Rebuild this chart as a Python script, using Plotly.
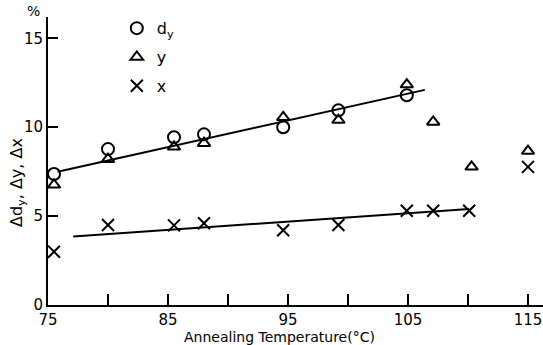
import plotly.graph_objects as go

# Data
temp_dy = [75.5, 80, 85.5, 88, 94.6, 99.2, 104.9]
dy_vals = [7.37, 8.77, 9.44, 9.6, 10.0, 10.95, 11.8]

temp_y = [75.5, 80, 85.5, 88, 94.6, 99.2, 104.9, 107.1, 110.3, 115]
y_vals = [6.76, 8.2, 8.9, 9.1, 10.56, 10.4, 12.4, 10.3, 7.77, 8.66]

temp_x = [75.5, 80, 85.5, 88, 94.6, 99.2, 104.9, 107.1, 110.1, 115]
x_vals = [3.0, 4.5, 4.48, 4.6, 4.2, 4.5, 5.3, 5.3, 5.3, 7.77]

fit_upper_t = [75.8, 106.4]
fit_upper_v = [7.5, 12.1]
fit_lower_t = [77.1, 110.1]
fit_lower_v = [3.85, 5.4]

x_ticks = [75, 85, 95, 105, 115]
x_minor = [80, 90, 100, 110]
y_ticks = [0, 5, 10, 15]

FONT = "DejaVu Sans"

fig = go.Figure()
fig.add_trace(go.Scatter(x=fit_upper_t, y=fit_upper_v, mode="lines",
                         line=dict(color="black", width=2), showlegend=False))
fig.add_trace(go.Scatter(x=fit_lower_t, y=fit_lower_v, mode="lines",
                         line=dict(color="black", width=2), showlegend=False))
fig.add_trace(go.Scatter(x=temp_dy, y=dy_vals, mode="markers", name="d<sub>y</sub>",
                         legendgroup="a",
                         marker=dict(symbol="circle-open", size=12, color="black",
                                     line=dict(width=2, color="black"))))
fig.add_trace(go.Scatter(x=temp_y, y=y_vals, mode="markers", name="y",
                         legendgroup="b",
                         marker=dict(symbol="triangle-up-open", size=11, color="black",
                                     line=dict(width=2, color="black"))))
fig.add_trace(go.Scatter(x=temp_x, y=x_vals, mode="markers", name="x",
                         legendgroup="c",
                         marker=dict(symbol="x-thin-open", size=12, color="black",
                                     line=dict(width=2, color="black"))))

fig.update_layout(
    width=543, height=345,
    margin=dict(l=48, r=0, t=17, b=40),
    paper_bgcolor="white", plot_bgcolor="white",
    font=dict(family=FONT, size=14, color="black"),
    legend=dict(x=0.139, y=1.02, xanchor="left", yanchor="top",
                tracegroupgap=5, font=dict(size=16), bgcolor="rgba(0,0,0,0)",
                itemwidth=30),
    xaxis=dict(range=[75, 116.25], showline=True, linewidth=2, linecolor="black",
               tickmode="array", tickvals=x_ticks, ticktext=[str(v) for v in x_ticks],
               ticks="inside", ticklen=11, tickwidth=1.5, tickcolor="black",
               showgrid=False, zeroline=False,
               minor=dict(tickmode="array", tickvals=x_minor, ticks="inside",
                          ticklen=11, tickwidth=1.5, tickcolor="black"),
               tickfont=dict(size=15)),
    yaxis=dict(range=[0, 16.2], showline=True, linewidth=2, linecolor="black",
               tickmode="array", tickvals=y_ticks, ticktext=[str(v) for v in y_ticks],
               ticks="inside", ticklen=10, tickwidth=1.5, tickcolor="black",
               showgrid=False, zeroline=False, tickfont=dict(size=15)),
    annotations=[
        dict(text="Annealing Temperature(°C)", xref="paper", yref="paper",
             x=(279 - 48) / 495, y=(305 - 337) / 288, xanchor="center", yanchor="middle",
             showarrow=False, font=dict(size=14)),
        dict(text="Δd<sub>y</sub>, Δy, Δx", xref="paper", yref="paper",
             x=(17 - 48) / 495, y=(305 - 183) / 288, xanchor="center", yanchor="middle",
             textangle=-90, showarrow=False, font=dict(size=16)),
        dict(text="%", xref="paper", yref="paper",
             x=(33 - 48) / 495, y=(305 - 11) / 288, xanchor="center", yanchor="middle",
             showarrow=False, font=dict(size=14)),
    ],
)

fig.write_html("out.html")
